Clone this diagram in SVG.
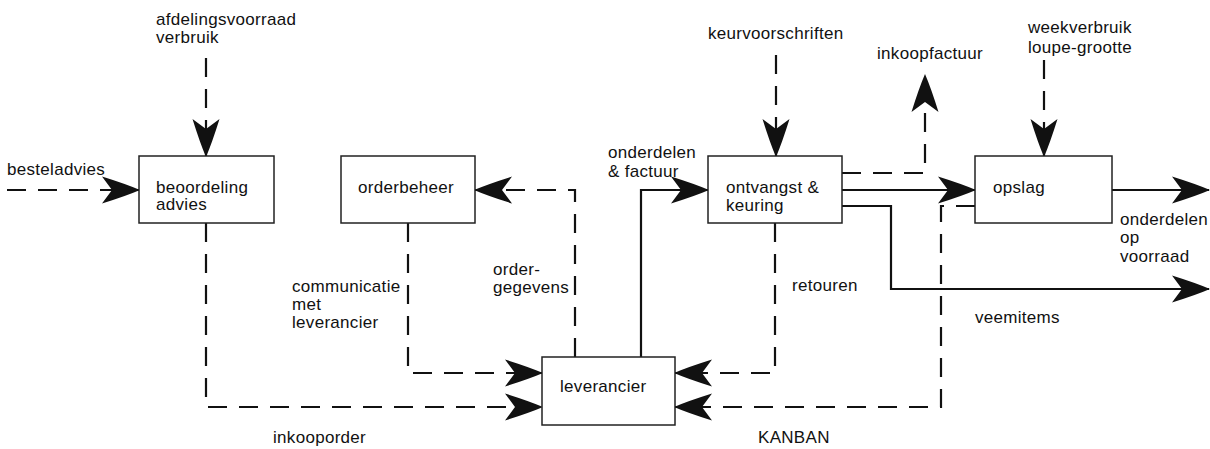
<svg xmlns="http://www.w3.org/2000/svg" width="1210" height="449" viewBox="0 0 1210 449">
  <style>
    text { font-family: "Liberation Sans", Arial, sans-serif; font-size: 17px; letter-spacing: 0.3px; fill: #111; }
    .box { fill: #fff; stroke: #222; stroke-width: 1.5; }
    .flow { fill: none; stroke: #111; stroke-width: 2.2; }
    .dash { stroke-dasharray: 19 12; }
  </style>
  <defs>
    <marker id="arrow" markerUnits="userSpaceOnUse" markerWidth="42" markerHeight="32" viewBox="-39 -16 41 32" refX="0" refY="0" orient="auto">
      <path d="M1,0 Q-13,-6 -37,-13.5 L-27,0 L-37,13.5 Q-13,6 1,0 Z" fill="#111"/>
    </marker>
  </defs>

  <rect width="1210" height="449" fill="#fff"/>

  <!-- connectors -->
  <g id="connectors">
    <path class="flow dash" d="M206,58 V156" marker-end="url(#arrow)"/>
    <path class="flow dash" d="M7,190 H139" marker-end="url(#arrow)"/>
    <path class="flow dash" d="M206,223 V407 H542" marker-end="url(#arrow)"/>
    <path class="flow dash" d="M408,223 V373 H542" marker-end="url(#arrow)"/>
    <path class="flow dash" d="M575,357 V190 H475" marker-end="url(#arrow)"/>
    <path class="flow" d="M641,357 V190 H708" marker-end="url(#arrow)"/>
    <path class="flow dash" d="M776,55 V156" marker-end="url(#arrow)"/>
    <path class="flow dash" d="M842,173 H925 V75" marker-end="url(#arrow)"/>
    <path class="flow" d="M842,190 H975" marker-end="url(#arrow)"/>
    <path class="flow" d="M842,206 H891 V289 H1209" marker-end="url(#arrow)"/>
    <path class="flow dash" d="M775,223 V373 H675" marker-end="url(#arrow)"/>
    <path class="flow dash" d="M975,206 H941 V407 H675" marker-end="url(#arrow)"/>
    <path class="flow dash" d="M1044,60 V156" marker-end="url(#arrow)"/>
    <path class="flow" d="M1112,190 H1209" marker-end="url(#arrow)"/>
  </g>

  <!-- nodes -->
  <g id="beoordeling">
    <rect class="box" x="139" y="156" width="135" height="67"/>
    <text x="156" y="193">beoordeling</text>
    <text x="156" y="210">advies</text>
  </g>
  <g id="orderbeheer">
    <rect class="box" x="341" y="156" width="134" height="67"/>
    <text x="358" y="193">orderbeheer</text>
  </g>
  <g id="ontvangst">
    <rect class="box" x="708" y="156" width="134" height="67"/>
    <text x="726" y="193">ontvangst &amp;</text>
    <text x="726" y="211">keuring</text>
  </g>
  <g id="opslag">
    <rect class="box" x="975" y="156" width="137" height="67"/>
    <text x="993" y="193">opslag</text>
  </g>
  <g id="leverancier">
    <rect class="box" x="542" y="357" width="133" height="68"/>
    <text x="560" y="392">leverancier</text>
  </g>

  <!-- flow labels -->
  <g id="labels">
    <text x="156" y="25">afdelingsvoorraad</text>
    <text x="156" y="43">verbruik</text>
    <text x="7" y="175">besteladvies</text>
    <text x="708" y="39">keurvoorschriften</text>
    <text x="608" y="158">onderdelen</text>
    <text x="608" y="177">&amp; factuur</text>
    <text x="877" y="59">inkoopfactuur</text>
    <text x="1028" y="33">weekverbruik</text>
    <text x="1028" y="53">loupe-grootte</text>
    <text x="1120" y="225">onderdelen</text>
    <text x="1120" y="243">op</text>
    <text x="1120" y="262">voorraad</text>
    <text x="292" y="292">communicatie</text>
    <text x="292" y="310">met</text>
    <text x="292" y="328">leverancier</text>
    <text x="493" y="275">order-</text>
    <text x="493" y="293">gegevens</text>
    <text x="792" y="291">retouren</text>
    <text x="975" y="323">veemitems</text>
    <text x="273" y="443">inkooporder</text>
    <text x="758" y="443">KANBAN</text>
  </g>
</svg>
